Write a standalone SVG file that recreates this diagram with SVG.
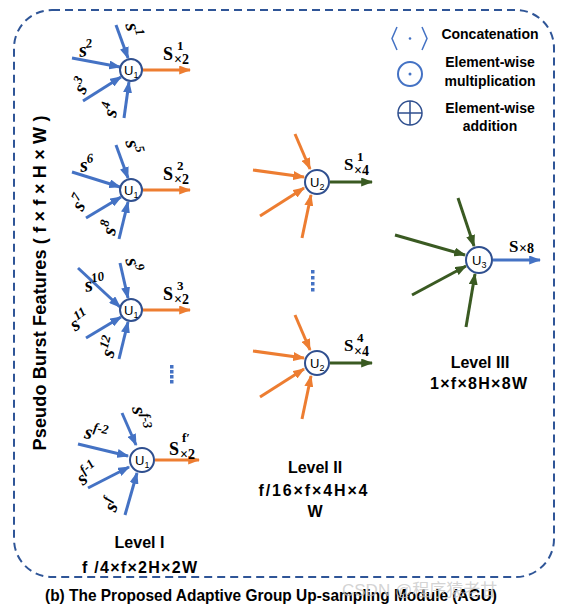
<svg xmlns="http://www.w3.org/2000/svg" width="570" height="610" viewBox="0 0 570 610">
<style>
.sans{font-family:"Liberation Sans",Arial,sans-serif;font-weight:bold;fill:#000}
.ser{font-family:"Liberation Serif","Times New Roman",serif;font-weight:bold;fill:#000}
.si{font-family:"Liberation Serif","Times New Roman",serif;font-weight:bold;font-style:italic;font-size:20px;fill:#000}
.b{stroke:#4472c4;stroke-width:3;fill:none;marker-end:url(#mb)}
.o{stroke:#ed7d31;stroke-width:3;fill:none;marker-end:url(#mo)}
.g{stroke:#3a5a22;stroke-width:3;fill:none;marker-end:url(#mg)}
.node{fill:#fff;stroke:#2f4f8f;stroke-width:2}
.u{font-family:"Liberation Sans",Arial,sans-serif;font-size:13px;fill:#000}
.dot{fill:#4472c4}
</style>
<defs>
<marker id="mb" markerWidth="4" markerHeight="3" refX="3.6" refY="1.5" orient="auto" markerUnits="strokeWidth"><path d="M0,0L4,1.5L0,3z" fill="#4472c4"/></marker>
<marker id="mo" markerWidth="4" markerHeight="3" refX="3.6" refY="1.5" orient="auto" markerUnits="strokeWidth"><path d="M0,0L4,1.5L0,3z" fill="#ed7d31"/></marker>
<marker id="mg" markerWidth="4" markerHeight="3" refX="3.6" refY="1.5" orient="auto" markerUnits="strokeWidth"><path d="M0,0L4,1.5L0,3z" fill="#3a5a22"/></marker>
</defs>
<rect x="14" y="10" width="540" height="567" rx="38" fill="none" stroke="#2f5597" stroke-width="2" stroke-dasharray="8,5"/>
<text class="sans" font-size="18" transform="translate(46,283) rotate(-90)" text-anchor="middle" textLength="335" lengthAdjust="spacing">Pseudo Burst Features ( f × f × H × W )</text>

<g id="legend">
<path d="M397,27 L392,38.5 L397,50 M422,27 L427,38.5 L422,50" stroke="#4472c4" stroke-width="1.5" fill="none"/>
<circle cx="410" cy="38.5" r="1.3" fill="#4472c4"/>
<text class="sans" font-size="14" x="490" y="39" text-anchor="middle">Concatenation</text>
<circle cx="410" cy="74" r="12" fill="none" stroke="#4472c4" stroke-width="2"/>
<circle cx="410" cy="74" r="1.5" fill="#4472c4"/>
<text class="sans" font-size="14" x="490" y="67" text-anchor="middle">Element-wise</text>
<text class="sans" font-size="14" x="490" y="86" text-anchor="middle">multiplication</text>
<circle cx="410" cy="113" r="12" fill="none" stroke="#2f4f8f" stroke-width="1.5"/>
<path d="M398,113H422M410,101V125" stroke="#2f4f8f" stroke-width="1.5"/>
<text class="sans" font-size="14" x="490" y="113" text-anchor="middle">Element-wise</text>
<text class="sans" font-size="14" x="490" y="131" text-anchor="middle">addition</text>
</g>

<g id="connectors">
<path class="b" d="M116,25L128,58"/><path class="b" d="M72,58L120,67"/><path class="b" d="M83,101L121,77"/><path class="b" d="M124,118L129,82"/>
<path class="o" d="M143,70L190,70"/>
<path class="b" d="M116,145L128,178"/><path class="b" d="M72,172L120,187"/><path class="b" d="M86,218L121,197"/><path class="b" d="M119,239L128,202"/>
<path class="o" d="M143,190L190,190"/>
<path class="b" d="M120,263L128,298"/><path class="b" d="M78,268L120,307"/><path class="b" d="M86,338L121,317"/><path class="b" d="M119,359L128,322"/>
<path class="o" d="M143,310L190,310"/>
<path class="b" d="M122,413L136,445"/><path class="b" d="M78,444L128,456"/><path class="b" d="M88,488L129,467"/><path class="b" d="M125,515L137,473"/>
<path class="o" d="M155,460L199,460"/>
<path class="o" d="M295,134L310,169"/><path class="o" d="M253,170L304,177"/><path class="o" d="M260,216L304,188"/><path class="o" d="M302,238L311,195"/>
<path class="g" d="M330,182L372,182"/>
<path class="o" d="M295,315L310,350"/><path class="o" d="M253,351L304,358"/><path class="o" d="M260,397L304,369"/><path class="o" d="M302,419L311,376"/>
<path class="g" d="M330,363L372,363"/>
<path class="g" d="M458,198L474,246"/><path class="g" d="M395,235L465,255"/><path class="g" d="M412,295L466,266"/><path class="g" d="M466,327L475,274"/>
<path class="b" d="M493,260L540,260"/>
</g>

<g id="dots">
<rect class="dot" x="170" y="365" width="3.5" height="3.5"/><rect class="dot" x="170" y="370" width="3.5" height="3.5"/><rect class="dot" x="170" y="375" width="3.5" height="3.5"/><rect class="dot" x="170" y="380" width="3.5" height="3.5"/>
<rect class="dot" x="311" y="270" width="3.5" height="3.5"/><rect class="dot" x="311" y="276" width="3.5" height="3.5"/><rect class="dot" x="311" y="282" width="3.5" height="3.5"/><rect class="dot" x="311" y="288" width="3.5" height="3.5"/>
</g>

<g id="U1a"><circle class="node" cx="131" cy="70" r="11"/><text class="u" x="124" y="75">U<tspan font-size="9" dy="3">1</tspan></text></g>
<g id="U1b"><circle class="node" cx="131" cy="190" r="11"/><text class="u" x="124" y="195">U<tspan font-size="9" dy="3">1</tspan></text></g>
<g id="U1c"><circle class="node" cx="131" cy="310" r="11"/><text class="u" x="124" y="315">U<tspan font-size="9" dy="3">1</tspan></text></g>
<g id="U1d"><circle class="node" cx="142" cy="460" r="12"/><text class="u" x="135" y="465">U<tspan font-size="9" dy="3">1</tspan></text></g>
<g id="U2a"><circle class="node" cx="317" cy="182" r="12"/><text class="u" x="310" y="187">U<tspan font-size="9" dy="3">2</tspan></text></g>
<g id="U2b"><circle class="node" cx="317" cy="363" r="12"/><text class="u" x="310" y="368">U<tspan font-size="9" dy="3">2</tspan></text></g>
<g id="U3"><circle class="node" cx="479" cy="260" r="13"/><text class="u" x="472" y="265">U<tspan font-size="9" dy="3">3</tspan></text></g>

<g id="inputs">
<text class="si" transform="translate(133,30) rotate(75)" text-anchor="middle" y="6">s<tspan font-size="13" dy="-8">1</tspan></text>
<text class="si" transform="translate(86,50) rotate(-8)" text-anchor="middle" y="6">s<tspan font-size="13" dy="-8">2</tspan></text>
<text class="si" transform="translate(82,86) rotate(-65)" text-anchor="middle" y="6">s<tspan font-size="13" dy="-8">3</tspan></text>
<text class="si" transform="translate(111,110) rotate(-80)" text-anchor="middle" y="6">s<tspan font-size="13" dy="-8">4</tspan></text>
<text class="si" transform="translate(133,147) rotate(75)" text-anchor="middle" y="6">s<tspan font-size="13" dy="-8">5</tspan></text>
<text class="si" transform="translate(87,165) rotate(-8)" text-anchor="middle" y="6">s<tspan font-size="13" dy="-8">6</tspan></text>
<text class="si" transform="translate(80,203) rotate(-65)" text-anchor="middle" y="6">s<tspan font-size="13" dy="-8">7</tspan></text>
<text class="si" transform="translate(110,228) rotate(-80)" text-anchor="middle" y="6">s<tspan font-size="13" dy="-8">8</tspan></text>
<text class="si" transform="translate(133,265) rotate(75)" text-anchor="middle" y="6">s<tspan font-size="13" dy="-8">9</tspan></text>
<text class="si" transform="translate(95,284) rotate(-12)" text-anchor="middle" y="6">s<tspan font-size="13" dy="-8">10</tspan></text>
<text class="si" transform="translate(80,321) rotate(-35)" text-anchor="middle" y="6">s<tspan font-size="13" dy="-8">11</tspan></text>
<text class="si" transform="translate(110,347) rotate(-75)" text-anchor="middle" y="6">s<tspan font-size="13" dy="-8">12</tspan></text>
<text class="si" transform="translate(140,418) rotate(80)" text-anchor="middle" y="6">s<tspan font-size="13" dy="-8">f-3</tspan></text>
<text class="si" transform="translate(96,434) rotate(10)" text-anchor="middle" y="6">s<tspan font-size="13" dy="-8">f-2</tspan></text>
<text class="si" transform="translate(88,474) rotate(-40)" text-anchor="middle" y="6">s<tspan font-size="13" dy="-8">f-1</tspan></text>
<text class="si" transform="translate(112,505) rotate(-70)" text-anchor="middle" y="6">s<tspan font-size="13" dy="-8">f</tspan></text>
</g>

<g id="outputs">
<text class="ser" font-size="18" x="163" y="60">S</text><text class="ser" font-size="13" x="177" y="50">1</text><text class="ser" font-size="14" x="174" y="64">×2</text>
<text class="ser" font-size="18" x="163" y="180">S</text><text class="ser" font-size="13" x="177" y="170">2</text><text class="ser" font-size="14" x="174" y="184">×2</text>
<text class="ser" font-size="18" x="163" y="300">S</text><text class="ser" font-size="13" x="177" y="290">3</text><text class="ser" font-size="14" x="174" y="304">×2</text>
<text class="ser" font-size="18" x="169" y="455">S</text><text class="ser" font-size="13" x="182" y="442">f′</text><text class="ser" font-size="14" x="180" y="459">×2</text>
<text class="ser" font-size="17" x="344" y="170">S</text><text class="ser" font-size="13" x="357" y="161">1</text><text class="ser" font-size="14" x="354" y="175">×4</text>
<text class="ser" font-size="17" x="344" y="351">S</text><text class="ser" font-size="13" x="357" y="342">4</text><text class="ser" font-size="14" x="354" y="356">×4</text>
<text class="ser" font-size="17" x="509" y="252">S</text><text class="ser" font-size="14" x="519" y="253">×8</text>
</g>

<g id="levels">
<text class="sans" font-size="16" x="139.5" y="548" text-anchor="middle">Level I</text>
<text class="sans" font-size="16" x="139.5" y="573" text-anchor="middle" textLength="115" lengthAdjust="spacing">f /4×f×2H×2W</text>
<text class="sans" font-size="16" x="315" y="473" text-anchor="middle">Level II</text>
<text class="sans" font-size="16" x="313" y="496" text-anchor="middle" textLength="109" lengthAdjust="spacing">f/16×f×4H×4</text>
<text class="sans" font-size="16" x="315" y="517" text-anchor="middle">W</text>
<text class="sans" font-size="16" x="480" y="368" text-anchor="middle">Level III</text>
<text class="sans" font-size="16" x="478.5" y="389" text-anchor="middle" textLength="97" lengthAdjust="spacing">1×f×8H×8W</text>
</g>

<text class="sans" font-size="16.5" x="271" y="601" text-anchor="middle" textLength="452" lengthAdjust="spacingAndGlyphs">(b) The Proposed Adaptive Group Up-sampling Module (AGU)</text>
<text font-family="'Liberation Sans','Noto Sans CJK SC',sans-serif" font-size="17" fill="#c8c8c8" fill-opacity="0.8" x="342" y="596">CSDN @程序猿老甘</text>
</svg>
